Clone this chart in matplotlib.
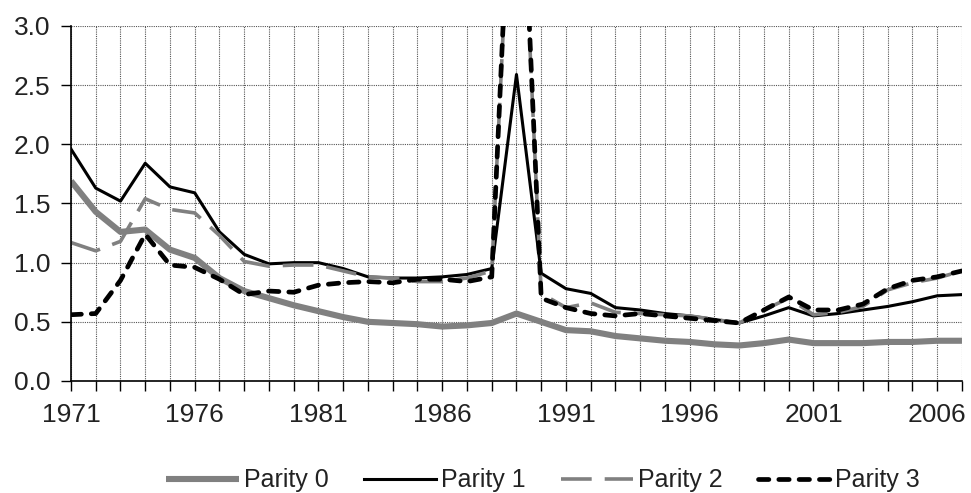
"""
Ratio by parity, 1971-2007: line chart recreated with matplotlib.

Output:
    out.png
"""

import matplotlib.pyplot as plt

plt.rcParams["font.family"] = ["Liberation Sans", "DejaVu Sans"]

years = list(range(1971, 2008))

parity_0 = [1.69, 1.43, 1.26, 1.28, 1.11, 1.04, 0.87, 0.76, 0.70, 0.64,
            0.59, 0.54, 0.50, 0.49, 0.48, 0.46, 0.47, 0.49, 0.57, 0.50,
            0.43, 0.42, 0.38, 0.36, 0.34, 0.33, 0.31, 0.30, 0.32, 0.35,
            0.32, 0.32, 0.32, 0.33, 0.33, 0.34, 0.34]
parity_1 = [1.96, 1.63, 1.52, 1.84, 1.64, 1.59, 1.26, 1.07, 0.99, 1.00,
            1.00, 0.95, 0.88, 0.87, 0.87, 0.88, 0.90, 0.95, 2.59, 0.91,
            0.78, 0.74, 0.62, 0.60, 0.57, 0.55, 0.52, 0.49, 0.55, 0.62,
            0.55, 0.57, 0.60, 0.63, 0.67, 0.72, 0.73]
parity_2 = [1.17, 1.10, 1.18, 1.54, 1.45, 1.42, 1.23, 1.01, 0.97, 0.98,
            0.98, 0.93, 0.88, 0.87, 0.84, 0.84, 0.87, 0.93, 5.3, 0.74,
            0.62, 0.66, 0.58, 0.57, 0.56, 0.55, 0.52, 0.49, 0.60, 0.70,
            0.56, 0.58, 0.63, 0.77, 0.83, 0.87, 0.93]
parity_3 = [0.56, 0.57, 0.85, 1.24, 0.98, 0.96, 0.86, 0.73, 0.76, 0.75,
            0.81, 0.83, 0.84, 0.83, 0.86, 0.86, 0.84, 0.88, 5.5, 0.70,
            0.62, 0.57, 0.55, 0.57, 0.55, 0.53, 0.51, 0.49, 0.60, 0.71,
            0.60, 0.60, 0.65, 0.78, 0.85, 0.88, 0.93]

labels = ["Parity 0", "Parity 1", "Parity 2", "Parity 3"]
grey = "#808080"

fig = plt.figure(figsize=(9.71, 4.93), dpi=100)
ax = fig.add_axes([0.0731, 0.2272, 0.9176, 0.7201])

ax.plot(years, parity_0, color=grey, lw=4.4, solid_capstyle="butt", label=labels[0])
ax.plot(years, parity_1, color="black", lw=2.2, label=labels[1])
ax.plot(years, parity_2, color=grey, lw=2.6, dashes=(8.5, 3.6), label=labels[2])
ax.plot(years, parity_3, color="black", lw=3.4, dashes=(2.2, 2.1),
        dash_capstyle="round", label=labels[3])

ax.set_xlim(1971, 2007)
ax.set_ylim(0, 3.0)
ax.set_xticks(years)
ax.set_xticklabels([str(y) if (y - 1971) % 5 == 0 else "" for y in years])
ax.set_yticks([0.0, 0.5, 1.0, 1.5, 2.0, 2.5, 3.0])
ax.set_yticklabels([f"{v:.1f}" for v in ax.get_yticks()])
ax.tick_params(axis="both", direction="out", length=7, width=1,
               labelsize=19, colors="black", labelcolor="#222222")
ax.tick_params(axis="x", pad=9)
ax.tick_params(axis="y", pad=8)

ax.grid(True, color="#555555", linestyle=(0, (1, 1)), linewidth=0.8)
ax.set_axisbelow(True)
for side in ["top", "right"]:
    ax.spines[side].set_visible(False)
for side in ["left", "bottom"]:
    ax.spines[side].set_linewidth(1.2)

ax.legend(loc="center", bbox_to_anchor=(0.53, -0.28), ncol=4,
          frameon=False, fontsize=18, handlelength=2.9, handletextpad=0.2,
          columnspacing=1.4, labelcolor="#222222")

fig.savefig("out.png", dpi=100)
